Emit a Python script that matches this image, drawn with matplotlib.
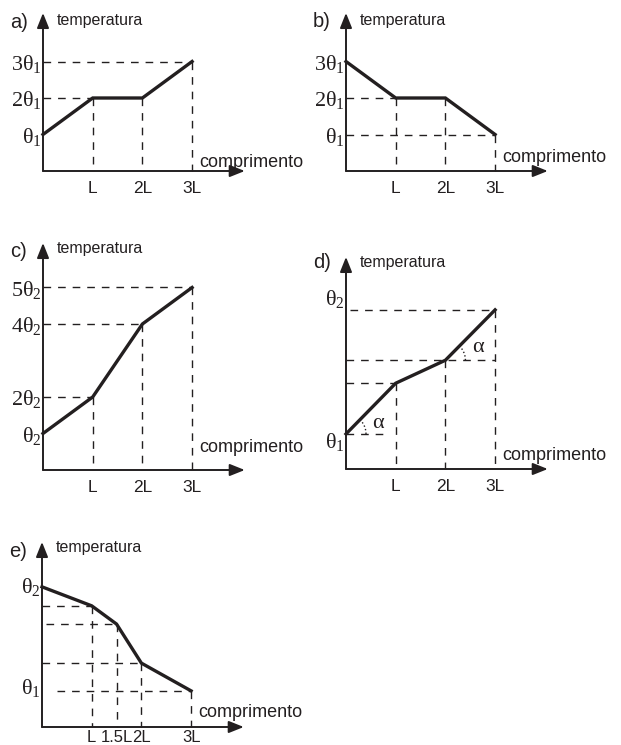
import numpy as np
import matplotlib.pyplot as plt

plt.rcParams['mathtext.fontset'] = 'custom'
plt.rcParams['mathtext.rm'] = 'Liberation Serif'
plt.rcParams['font.family'] = 'Liberation Sans'

# dados (x em unidades de L, temperatura em unidades de theta)
pos = [0, 1, 2, 3]
temp_a = [1, 2, 2, 3]
temp_b = [3, 2, 2, 1]
temp_c = [1, 2, 4, 5]
temp_d = [0.96, 2.35, 2.98, 4.36]
pos_e = [0, 1, 1.5, 2, 3]
temp_e = [3.84, 3.32, 2.82, 1.75, 0.99]

ticks = ['L', '2L', '3L']
ticks_e = ['L', '1.5L', '2L', '3L']

niveis_a = [1, 2, 3]
rotulos_a = [r'$\mathrm{θ_1}$', r'$\mathrm{2θ_1}$', r'$\mathrm{3θ_1}$']
niveis_c = [1, 2, 4, 5]
rotulos_c = [r'$\mathrm{θ_2}$', r'$\mathrm{2θ_2}$', r'$\mathrm{4θ_2}$', r'$\mathrm{5θ_2}$']

C = '#231f20'
W, H = 621, 745
SX, SY = 49.7, 36.5  # pixels por unidade
DASH = (0, (5.5, 5))

fig = plt.figure(figsize=(W / 100, H / 100), dpi=100)


def painel(ox, oy, x_fim, y_topo, letra, y_temp, y_letra, y_comp):
    ax = fig.add_axes([ox / W, (H - oy) / H, x_fim * SX / W, y_topo * SY / H])
    ax.set_xlim(0, x_fim)
    ax.set_ylim(0, y_topo)
    ax.axis('off')
    seta = dict(arrowstyle='-|>,head_length=0.9,head_width=0.36', mutation_scale=10,
                lw=1.4, color=C, shrinkA=0, shrinkB=0)
    ax.annotate('', xy=(x_fim, 0), xytext=(0, 0), arrowprops=seta, annotation_clip=False)
    ax.annotate('', xy=(0, y_topo), xytext=(0, 0), arrowprops=seta, annotation_clip=False)
    ax.text(-0.67, y_letra, letra, fontsize=14.5, color=C, va='baseline', ha='left')
    ax.text(0.27, y_temp, 'temperatura', fontsize=11.5, color=C, va='baseline', ha='left')
    ax.text(3.15, y_comp, 'comprimento', fontsize=13, color=C, va='baseline', ha='left')
    return ax


def tracejado(ax, xs, ys):
    ax.plot(xs, ys, ls=DASH, lw=1.0, color=C, clip_on=False)


def curva(ax, xs, ys):
    ax.plot(xs, ys, lw=2.4, color=C, solid_joinstyle='miter', clip_on=False)


def eixo_x(ax, xs, labels, y=-0.6, fs=12.5):
    for x, t in zip(xs, labels):
        ax.text(x, y, t, fontsize=fs, color=C, ha='center', va='baseline')


def eixo_y(ax, ys, labels, dy=-0.22):
    for y, t in zip(ys, labels):
        ax.text(-0.02, y + dy, t, fontsize=16, color=C, ha='right', va='baseline')


# a)
ax = painel(43, 171, 4.06, 4.33, 'a)', 4.0, 3.92, 0.12)
tracejado(ax, [0, 3], [3, 3])
tracejado(ax, [0, 1], [2, 2])
for x, y in zip(pos[1:], temp_a[1:]):
    tracejado(ax, [x, x], [y, 0])
curva(ax, pos, temp_a)
eixo_x(ax, pos[1:], ticks)
eixo_y(ax, niveis_a, rotulos_a)

# b)
ax = painel(346, 171, 4.06, 4.33, 'b)', 4.0, 3.95, 0.25)
tracejado(ax, [0, 1], [2, 2])
tracejado(ax, [0, 3], [1, 1])
for x, y in zip(pos[1:], temp_b[1:]):
    tracejado(ax, [x, x], [y, 0])
curva(ax, pos, temp_b)
eixo_x(ax, pos[1:], ticks)
eixo_y(ax, niveis_a, rotulos_a)

# c)
ax = painel(43, 470, 4.06, 6.22, 'c)', 5.95, 5.84, 0.49)
tracejado(ax, [0, 3], [5, 5])
tracejado(ax, [0, 2], [4, 4])
tracejado(ax, [0, 1], [2, 2])
for x, y in zip(pos[1:], temp_c[1:]):
    tracejado(ax, [x, x], [y, 0])
curva(ax, pos, temp_c)
eixo_x(ax, pos[1:], ticks)
eixo_y(ax, niveis_c, rotulos_c)

# d)
ax = painel(346, 469, 4.06, 5.81, 'd)', 5.53, 5.5, 0.25)
tracejado(ax, [0.08, 3], [temp_d[3], temp_d[3]])
tracejado(ax, [0, 3], [temp_d[2], temp_d[2]])
tracejado(ax, [0, 1], [temp_d[1], temp_d[1]])
tracejado(ax, [0, 0.85], [temp_d[0], temp_d[0]])
for x, y in zip(pos[1:], temp_d[1:]):
    tracejado(ax, [x, x], [y, 0])
curva(ax, pos, temp_d)
eixo_x(ax, pos[1:], ticks)
ax.text(-0.02, 4.5, r'$\mathrm{θ_2}$', fontsize=16, color=C, ha='right', va='baseline')
ax.text(-0.02, 0.58, r'$\mathrm{θ_1}$', fontsize=16, color=C, ha='right', va='baseline')
# arcos do angulo alfa
for i in (0, 2):
    ang = np.arctan2((temp_d[i + 1] - temp_d[i]) * SY, SX)
    t = np.linspace(0, ang, 20)
    ax.plot(pos[i] + 20 * np.cos(t) / SX, temp_d[i] + 20 * np.sin(t) / SY,
            ls=':', lw=1.0, color=C, clip_on=False)
ax.text(0.64, 1.26, 'α', fontsize=16, color=C, ha='center', va='center', family='Liberation Serif')
ax.text(2.66, 3.32, 'α', fontsize=16, color=C, ha='center', va='center', family='Liberation Serif')

# e)
ax = painel(42, 727, 4.06, 5.07, 'e)', 4.79, 4.66, 0.27)
tracejado(ax, [0, 1], [temp_e[1], temp_e[1]])
tracejado(ax, [0.08, 1.5], [temp_e[2], temp_e[2]])
tracejado(ax, [0, 2], [temp_e[3], temp_e[3]])
tracejado(ax, [0.3, 3], [temp_e[4], temp_e[4]])
for x, y in zip(pos_e[1:], temp_e[1:]):
    tracejado(ax, [x, x], [y, 0])
curva(ax, pos_e, temp_e)
eixo_x(ax, pos_e[1:], ticks_e, y=-0.4, fs=12)
ax.text(-0.02, 3.66, r'$\mathrm{θ_2}$', fontsize=16, color=C, ha='right', va='baseline')
ax.text(-0.02, 0.9, r'$\mathrm{θ_1}$', fontsize=16, color=C, ha='right', va='baseline')

fig.savefig('out.png', dpi=100, facecolor='white')
